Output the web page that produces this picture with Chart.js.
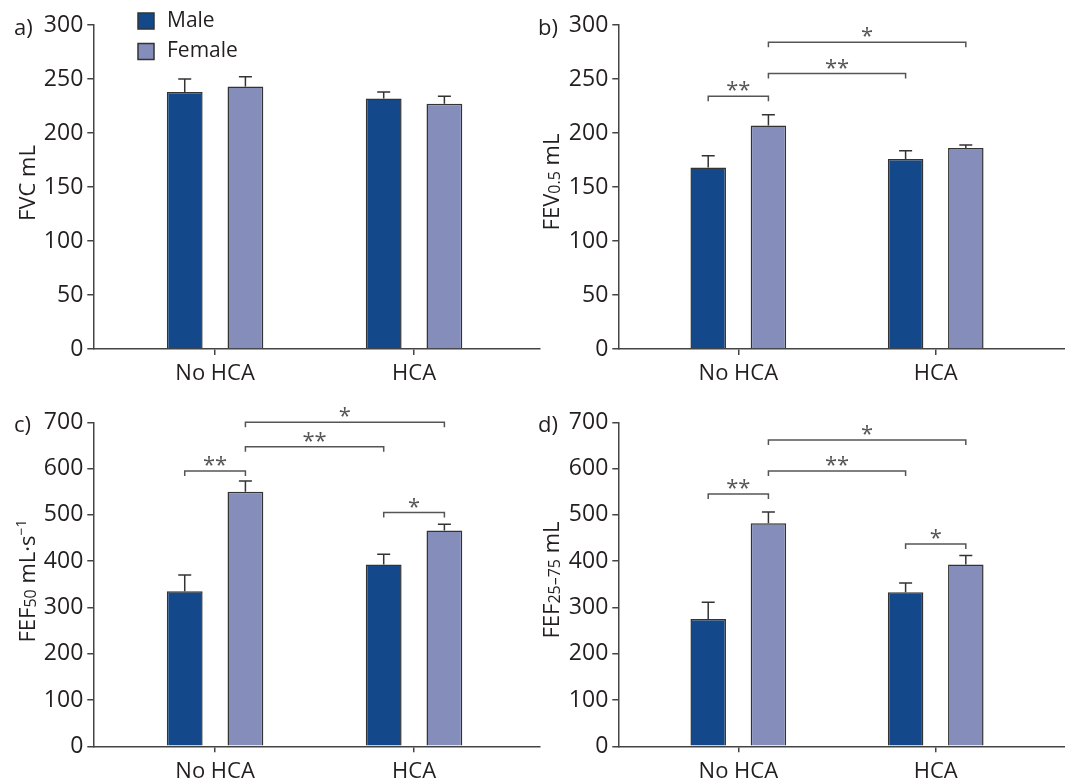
<!DOCTYPE html>
<html>
<head>
<meta charset="utf-8">
<script src="https://cdn.jsdelivr.net/npm/chart.js@4"></script>
<style>
  body { margin: 0; background: #fff; width: 1065px; height: 781px; position: relative; overflow: hidden; }
  canvas { position: absolute; }
</style>
</head>
<body>
<canvas id="panel-a" width="545" height="390" style="left:0;top:0"></canvas>
<canvas id="panel-b" width="535" height="390" style="left:530px;top:0"></canvas>
<canvas id="panel-c" width="545" height="391" style="left:0;top:390px"></canvas>
<canvas id="panel-d" width="535" height="391" style="left:530px;top:390px"></canvas>
<script>
// Lung function by sex, with and without HCA (mean + SEM)
const categories = ['No HCA', 'HCA'];
const seriesNames = ['Male', 'Female'];

const fvcMale = [238, 232];
const fvcMaleSem = [12, 6];
const fvcFemale = [243, 227];
const fvcFemaleSem = [9, 7];

const fev05Male = [168, 176];
const fev05MaleSem = [11, 7.5];
const fev05Female = [207, 186];
const fev05FemaleSem = [10, 3];

const fef50Male = [335, 393];
const fef50MaleSem = [35, 22];
const fef50Female = [550, 466];
const fef50FemaleSem = [23, 14];

const fef2575Male = [275, 333];
const fef2575MaleSem = [36, 20];
const fef2575Female = [482, 393];
const fef2575FemaleSem = [24, 19];

const mlTicks = [0, 50, 100, 150, 200, 250, 300];
const flowTicks = [0, 100, 200, 300, 400, 500, 600, 700];

// significance brackets: [category, series] -> [category, series], height in axis units
const fev05Stars = [
  { from: [0, 0], to: [0, 1], y: 234, text: '**' },
  { from: [0, 1], to: [1, 0], y: 255, text: '**' },
  { from: [0, 1], to: [1, 1], y: 284, text: '*' }
];
const fef50Stars = [
  { from: [0, 0], to: [0, 1], y: 595, text: '**' },
  { from: [0, 1], to: [1, 0], y: 647, text: '**' },
  { from: [0, 1], to: [1, 1], y: 700, text: '*' },
  { from: [1, 0], to: [1, 1], y: 505, text: '*' }
];
const fef2575Stars = [
  { from: [0, 0], to: [0, 1], y: 545, text: '**' },
  { from: [0, 1], to: [1, 0], y: 595, text: '**' },
  { from: [0, 1], to: [1, 1], y: 662, text: '*' },
  { from: [1, 0], to: [1, 1], y: 437, text: '*' }
];

const MALE = '#13498a';
const FEMALE = '#858eba';
const INK = '#231f20';
const AXIS = '#444';
const FONT = '"Open Sans", "Noto Sans", sans-serif';

const extras = {
  id: 'extras',
  afterDatasetsDraw(chart, args, opts) {
    const ctx = chart.ctx;
    const ys = chart.scales.y;
    ctx.save();
    // error bars (upper only)
    ctx.strokeStyle = '#333';
    ctx.lineWidth = 1.5;
    chart.data.datasets.forEach((ds, di) => {
      chart.getDatasetMeta(di).data.forEach((bar, i) => {
        const top = ys.getPixelForValue(ds.data[i].y + ds.sem[i]);
        ctx.beginPath();
        ctx.moveTo(bar.x, bar.y);
        ctx.lineTo(bar.x, top);
        ctx.moveTo(bar.x - 6.5, top);
        ctx.lineTo(bar.x + 6.5, top);
        ctx.stroke();
      });
    });
    // brackets
    ctx.strokeStyle = '#555';
    ctx.fillStyle = '#555';
    ctx.font = '22px ' + FONT;
    ctx.textAlign = 'center';
    ctx.textBaseline = 'alphabetic';
    (opts.brackets || []).forEach(b => {
      const x1 = chart.getDatasetMeta(b.from[1]).data[b.from[0]].x;
      const x2 = chart.getDatasetMeta(b.to[1]).data[b.to[0]].x;
      const y = ys.getPixelForValue(b.y);
      ctx.beginPath();
      ctx.moveTo(x1, y + 5);
      ctx.lineTo(x1, y);
      ctx.lineTo(x2, y);
      ctx.lineTo(x2, y + 5);
      ctx.stroke();
      ctx.fillText(b.text, (x1 + x2) / 2, y + 1);
    });
    ctx.restore();
  },
  afterDraw(chart, args, opts) {
    const ctx = chart.ctx;
    ctx.save();
    ctx.fillStyle = INK;
    ctx.textBaseline = 'alphabetic';
    // panel letter
    ctx.font = '22px ' + FONT;
    ctx.textAlign = 'left';
    ctx.fillText(opts.letter, opts.letterX, opts.letterY);
    // y title with sub/superscripts
    ctx.translate(opts.titleX, opts.titleY);
    ctx.rotate(-Math.PI / 2);
    let total = 0;
    opts.title.forEach(s => {
      ctx.font = (s.size || 22) + 'px ' + FONT;
      total += ctx.measureText(s.t).width;
    });
    let x = -total / 2;
    opts.title.forEach(s => {
      ctx.font = (s.size || 22) + 'px ' + FONT;
      ctx.fillText(s.t, x, s.dy || 0);
      x += ctx.measureText(s.t).width;
    });
    ctx.restore();
    // legend
    if (opts.legend) {
      ctx.save();
      ctx.font = '21px ' + FONT;
      ctx.textBaseline = 'middle';
      ctx.textAlign = 'left';
      chart.data.datasets.forEach((ds, i) => {
        const top = 13 + i * 30.5;
        ctx.fillStyle = ds.backgroundColor;
        ctx.fillRect(138, top, 16, 16);
        ctx.strokeStyle = '#333';
        ctx.lineWidth = 1.5;
        ctx.strokeRect(138, top, 16, 16);
        ctx.fillStyle = INK;
        ctx.fillText(ds.label, 167, top + 8);
      });
      ctx.restore();
    }
  }
};

function makePanel(id, p) {
  const series = [
    { values: p.male, sem: p.maleSem, color: MALE },
    { values: p.female, sem: p.femaleSem, color: FEMALE }
  ];
  new Chart(document.getElementById(id), {
    type: 'bar',
    data: {
      datasets: series.map((s, k) => ({
        label: seriesNames[k],
        data: categories.map((c, i) => ({ x: i, y: s.values[i] })),
        sem: s.sem,
        backgroundColor: s.color,
        borderColor: '#333',
        borderWidth: 1.5,
        categoryPercentage: 0.61,
        barPercentage: 0.59
      }))
    },
    options: {
      responsive: false,
      animation: false,
      layout: { padding: { top: p.top, left: 0, right: p.right, bottom: 0 } },
      plugins: {
        legend: { display: false },
        tooltip: { enabled: false },
        extras: {
          letter: p.letter, letterX: p.letterX, letterY: p.letterY,
          title: p.title, titleX: p.titleX, titleY: p.titleY,
          brackets: p.brackets, legend: p.legend
        }
      },
      scales: {
        x: {
          type: 'linear',
          offset: false,
          min: p.xMin,
          max: p.xMax,
          afterBuildTicks: s => { s.ticks = categories.map((c, i) => ({ value: i })); },
          afterFit: s => { s.height = p.xHeight; },
          border: { display: true, color: AXIS, width: 1.5 },
          grid: { offset: false, drawOnChartArea: false, drawTicks: true, tickLength: 6, color: AXIS, lineWidth: 1.5 },
          ticks: {
            callback: v => categories[Math.round(v)],
            font: { family: FONT, size: 22 },
            color: INK,
            padding: 6,
            maxRotation: 0
          }
        },
        y: {
          min: 0,
          max: p.ticks[p.ticks.length - 1],
          afterBuildTicks: s => { s.ticks = p.ticks.map(v => ({ value: v })); },
          afterFit: s => { s.width = p.yWidth; },
          border: { display: true, color: AXIS, width: 1.5 },
          grid: { drawOnChartArea: false, drawTicks: true, tickLength: 6, color: AXIS, lineWidth: 1.5 },
          ticks: {
            font: { family: FONT, size: 23 },
            color: INK,
            padding: 4
          }
        }
      }
    },
    plugins: [extras]
  });
}

makePanel('panel-a', {
  male: fvcMale, maleSem: fvcMaleSem, female: fvcFemale, femaleSem: fvcFemaleSem,
  ticks: mlTicks, top: 25, right: 5, yWidth: 93.3, xHeight: 41, xMin: -0.612, xMax: 1.633,
  letter: 'a)', letterX: 14, letterY: 35,
  title: [{ t: 'FVC mL' }], titleX: 35, titleY: 183,
  brackets: [], legend: true
});

makePanel('panel-b', {
  male: fev05Male, maleSem: fev05MaleSem, female: fev05Female, femaleSem: fev05FemaleSem,
  ticks: mlTicks, top: 25, right: 0, yWidth: 88.3, xHeight: 41, xMin: -0.608, xMax: 1.655,
  letter: 'b)', letterX: 8, letterY: 35,
  title: [{ t: 'FEV' }, { t: '0.5', size: 16, dy: 1 }, { t: ' mL' }], titleX: 28.5, titleY: 182,
  brackets: fev05Stars, legend: false
});

makePanel('panel-c', {
  male: fef50Male, maleSem: fef50MaleSem, female: fef50Female, femaleSem: fef50FemaleSem,
  ticks: flowTicks, top: 32.3, right: 5, yWidth: 93.3, xHeight: 34.7, xMin: -0.612, xMax: 1.633,
  letter: 'c)', letterX: 14, letterY: 42,
  title: [{ t: 'FEF' }, { t: '50', size: 16, dy: 1 }, { t: ' mL·s' }, { t: '−1', size: 14, dy: -9 }],
  titleX: 35, titleY: 191,
  brackets: fef50Stars, legend: false
});

makePanel('panel-d', {
  male: fef2575Male, maleSem: fef2575MaleSem, female: fef2575Female, femaleSem: fef2575FemaleSem,
  ticks: flowTicks, top: 32.3, right: 0, yWidth: 88.3, xHeight: 34.7, xMin: -0.608, xMax: 1.655,
  letter: 'd)', letterX: 8, letterY: 42,
  title: [{ t: 'FEF' }, { t: '25–75', size: 16, dy: 1 }, { t: ' mL' }], titleX: 28.5, titleY: 190,
  brackets: fef2575Stars, legend: false
});
</script>
</body>
</html>
